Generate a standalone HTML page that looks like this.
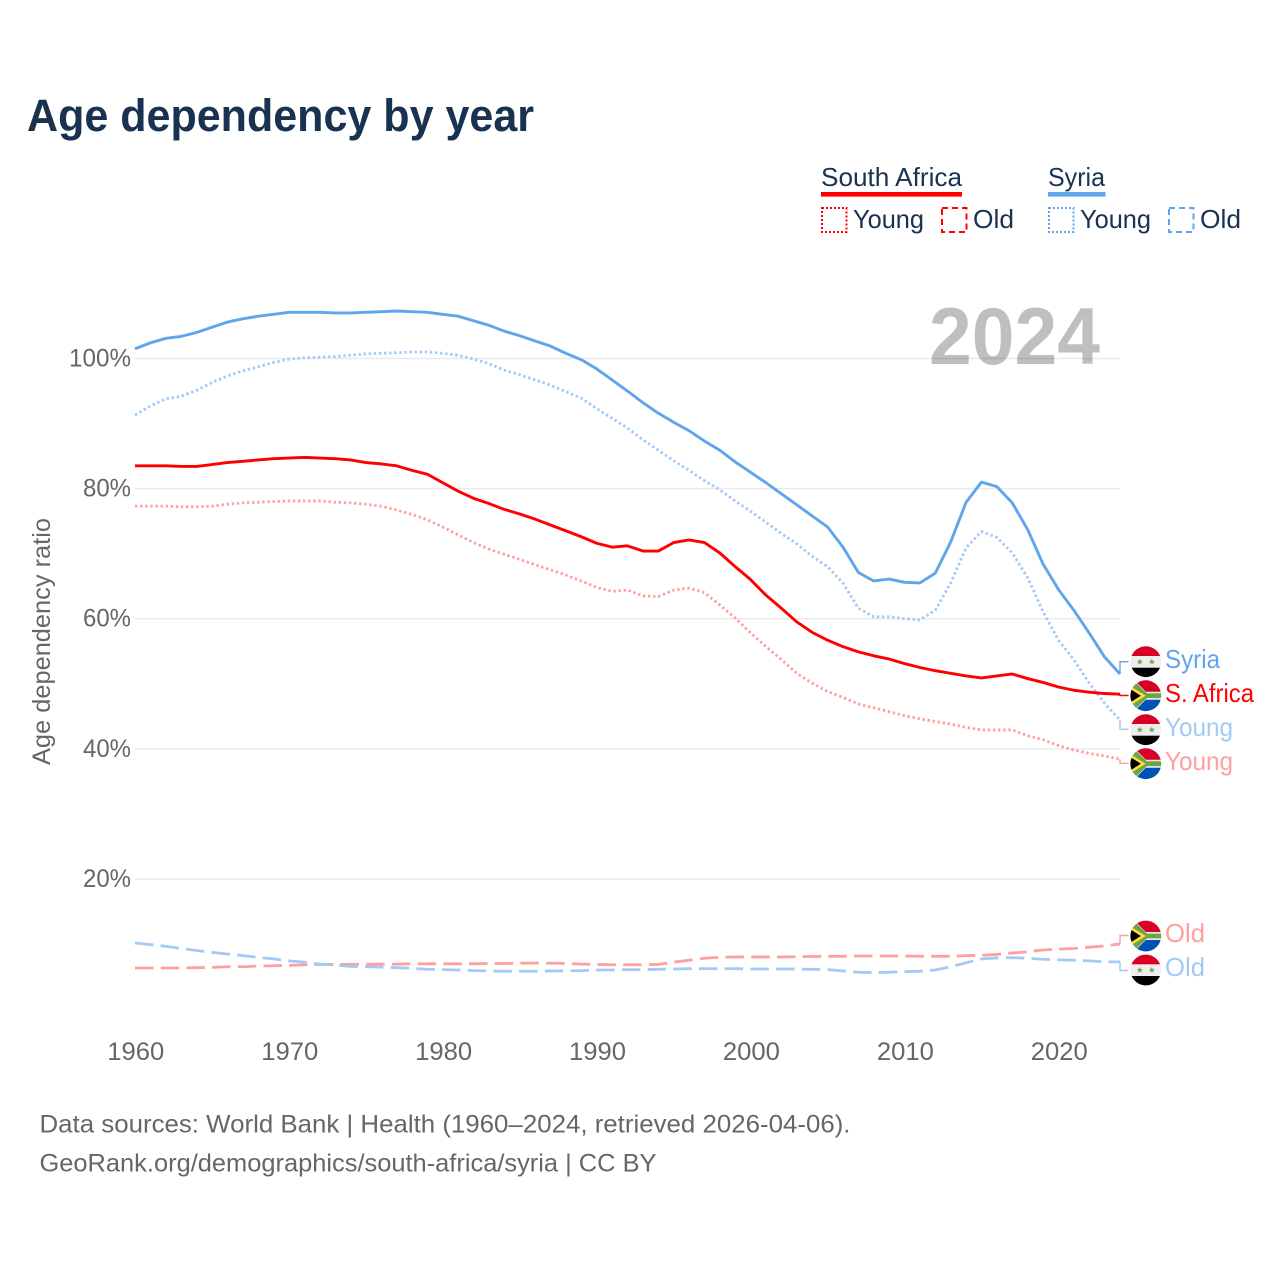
<!DOCTYPE html>
<html lang="en">
<head>
<meta charset="utf-8">
<title>Age dependency by year</title>
<style>
html,body{margin:0;padding:0;background:#fff;}
svg{display:block;font-family:"Liberation Sans",sans-serif;}
</style>
</head>
<body>
<svg id="chart" xmlns="http://www.w3.org/2000/svg" width="1280" height="1280" viewBox="0 0 1280 1280">
  <defs>
    <clipPath id="flag-clip"><circle cx="0" cy="0" r="15.4"/></clipPath>
    <g id="flag-syria" clip-path="url(#flag-clip)">
      <rect x="-16" y="-16" width="32" height="32" fill="#eeeeee"/>
      <rect x="-16" y="-16" width="32" height="10.3" fill="#d80027"/>
      <rect x="-16" y="6" width="32" height="10" fill="#000000"/>
      <polygon points="-6,-3 -5.1,-0.9 -3,-0.9 -4.6,0.5 -4,2.7 -6,1.4 -8,2.7 -7.4,0.5 -9,-0.9 -6.9,-0.9" fill="#6da544"/>
      <polygon points="6,-3 6.9,-0.9 9,-0.9 7.4,0.5 8,2.7 6,1.4 4,2.7 4.6,0.5 3,-0.9 5.1,-0.9" fill="#6da544"/>
    </g>
    <g id="flag-south-africa" clip-path="url(#flag-clip)">
      <rect x="-16" y="-16" width="32" height="32" fill="#eeeeee"/>
      <polygon points="-12,-16 16,-16 16,-4 0,-4" fill="#d80027"/>
      <polygon points="-12,16 16,16 16,4 0,4" fill="#0052b4"/>
      <polygon points="-16,-14 -11,-14 1,-2.4 16,-2.4 16,2.4 1,2.4 -11,14 -16,14" fill="#6da544"/>
      <polygon points="-16,-10 0,0 -16,10" fill="#ffda44"/>
      <polygon points="-16,-7 -5,0 -16,7" fill="#000000"/>
    </g>
  </defs>

  <text x="27" y="131" font-size="45" font-weight="700" fill="#193250" textLength="507" lengthAdjust="spacingAndGlyphs">Age dependency by year</text>

  <g>
    <g>
      <text x="821" y="186" font-size="26" fill="#193250" textLength="141" lengthAdjust="spacingAndGlyphs">South Africa</text>
      <rect x="821" y="192" width="141" height="4.6" fill="#ff0000"/>
    </g>
    <g>
      <rect x="822" y="208" width="24.5" height="24" fill="none" stroke="#ff0000" stroke-width="2" stroke-dasharray="2 2"/>
      <text x="853" y="228" font-size="26" fill="#193250" textLength="71" lengthAdjust="spacingAndGlyphs">Young</text>
    </g>
    <g>
      <rect x="942" y="208" width="24.5" height="24" fill="none" stroke="#ff0000" stroke-width="2" stroke-dasharray="6 4"/>
      <text x="973" y="228" font-size="26" fill="#193250" textLength="41" lengthAdjust="spacingAndGlyphs">Old</text>
    </g>
    <g>
      <text x="1048" y="186" font-size="26" fill="#193250" textLength="57" lengthAdjust="spacingAndGlyphs">Syria</text>
      <rect x="1048" y="192" width="57.5" height="4.6" fill="#5fa5ec"/>
    </g>
    <g>
      <rect x="1049" y="208" width="24.5" height="24" fill="none" stroke="#5fa5ec" stroke-width="2" stroke-dasharray="2 2"/>
      <text x="1080" y="228" font-size="26" fill="#193250" textLength="71" lengthAdjust="spacingAndGlyphs">Young</text>
    </g>
    <g>
      <rect x="1169" y="208" width="24.5" height="24" fill="none" stroke="#5fa5ec" stroke-width="2" stroke-dasharray="6 4"/>
      <text x="1200" y="228" font-size="26" fill="#193250" textLength="41" lengthAdjust="spacingAndGlyphs">Old</text>
    </g>
  </g>

  <g id="grid"></g>
  <g id="y-ticks"></g>
  <g id="x-ticks"></g>

  <text transform="translate(50,641.5) rotate(-90)" text-anchor="middle" font-size="25" fill="#666666" textLength="247" lengthAdjust="spacingAndGlyphs">Age dependency ratio</text>

  <text x="929" y="364" font-size="81" font-weight="700" fill="#000000" fill-opacity="0.25" textLength="171" lengthAdjust="spacingAndGlyphs">2024</text>

  <g id="series"></g>
  <g id="connectors"></g>

  <g>
    <use href="#flag-syria" transform="translate(1145.8,661.7)"/>
    <use href="#flag-south-africa" transform="translate(1145.8,695.7)"/>
    <use href="#flag-syria" transform="translate(1145.8,729.7)"/>
    <use href="#flag-south-africa" transform="translate(1145.8,763.7)"/>
    <use href="#flag-south-africa" transform="translate(1145.8,936)"/>
    <use href="#flag-syria" transform="translate(1145.8,970)"/>
    <text x="1165" y="668" font-size="26" fill="#5fa5ec" textLength="55" lengthAdjust="spacingAndGlyphs">Syria</text>
    <text x="1165" y="702" font-size="26" fill="#ff0000" textLength="89" lengthAdjust="spacingAndGlyphs">S. Africa</text>
    <text x="1165" y="736" font-size="26" fill="#a3c9f5" textLength="68" lengthAdjust="spacingAndGlyphs">Young</text>
    <text x="1165" y="770" font-size="26" fill="#ff9f9f" textLength="68" lengthAdjust="spacingAndGlyphs">Young</text>
    <text x="1165" y="942" font-size="26" fill="#ff9f9f" textLength="40" lengthAdjust="spacingAndGlyphs">Old</text>
    <text x="1165" y="976" font-size="26" fill="#a3c9f5" textLength="40" lengthAdjust="spacingAndGlyphs">Old</text>
  </g>

  <text x="39.5" y="1132.5" font-size="25" fill="#666666" textLength="811" lengthAdjust="spacingAndGlyphs">Data sources: World Bank | Health (1960–2024, retrieved 2026-04-06).</text>
  <text x="39.5" y="1171.5" font-size="25" fill="#666666" textLength="617" lengthAdjust="spacingAndGlyphs">GeoRank.org/demographics/south-africa/syria | CC BY</text>
</svg>

<script>
const startYear = 1960;
const endYear = 2024;
const xTickYears = [1960, 1970, 1980, 1990, 2000, 2010, 2020];
const xTickLabels = ["1960", "1970", "1980", "1990", "2000", "2010", "2020"];
const yTickValues = [20, 40, 60, 80, 100];
const yTickLabels = ["20%", "40%", "60%", "80%", "100%"];

const syriaTotal = [
101.5,102.4,103.1,103.4,104.0,104.8,105.6,106.1,106.5,106.8,
107.1,107.1,107.1,107.0,107.0,107.1,107.2,107.3,107.2,107.1,
106.8,106.5,105.8,105.1,104.2,103.5,102.7,101.9,100.8,99.8,
98.4,96.7,95.0,93.2,91.6,90.2,88.9,87.3,85.9,84.1,
82.5,80.9,79.2,77.5,75.8,74.1,71.0,67.1,65.8,66.1,
65.6,65.5,67.0,71.8,77.9,81.0,80.3,77.8,73.7,68.4,
64.5,61.3,57.8,54.1,51.5];
const syriaYoung = [
91.3,92.7,93.8,94.2,95.1,96.3,97.3,98.1,98.7,99.4,
99.9,100.1,100.2,100.3,100.5,100.7,100.8,100.9,101.0,101.0,
100.8,100.5,99.9,99.2,98.2,97.5,96.7,95.9,94.9,93.9,
92.3,90.8,89.3,87.5,85.9,84.3,82.8,81.2,79.8,78.1,
76.5,74.8,73.1,71.5,69.6,68.0,65.5,61.6,60.3,60.3,
60.0,59.8,61.3,65.5,70.9,73.4,72.5,70.1,66.3,61.1,
56.7,53.7,50.1,47.0,44.4];
const syriaOld = [
10.15,9.9,9.65,9.3,9.0,8.7,8.45,8.2,7.95,7.7,
7.4,7.2,6.9,6.75,6.55,6.5,6.45,6.35,6.25,6.1,
6.05,6.0,5.9,5.85,5.8,5.8,5.8,5.85,5.87,5.9,
6.0,6.0,6.05,6.05,6.1,6.15,6.2,6.2,6.2,6.2,
6.15,6.15,6.15,6.15,6.1,6.05,5.85,5.65,5.6,5.65,
5.75,5.8,6.0,6.5,7.1,7.7,7.85,7.9,7.8,7.65,
7.55,7.5,7.4,7.25,7.25];
const southAfricaTotal = [
83.5,83.5,83.5,83.4,83.4,83.7,84.0,84.2,84.4,84.6,
84.7,84.8,84.7,84.6,84.4,84.0,83.8,83.5,82.8,82.2,
80.9,79.6,78.5,77.7,76.8,76.1,75.3,74.4,73.5,72.6,
71.6,71.0,71.2,70.4,70.4,71.7,72.1,71.7,70.1,68.0,
66.0,63.6,61.6,59.5,57.9,56.7,55.7,54.9,54.3,53.8,
53.1,52.5,52.0,51.6,51.2,50.9,51.2,51.5,50.8,50.2,
49.5,49.0,48.7,48.5,48.4];
const southAfricaYoung = [
77.3,77.3,77.3,77.2,77.2,77.3,77.6,77.8,77.9,78.0,
78.1,78.1,78.1,77.9,77.8,77.6,77.3,76.7,76.0,75.2,
74.1,72.9,71.7,70.7,69.9,69.1,68.3,67.5,66.7,65.8,
64.8,64.2,64.4,63.5,63.4,64.4,64.7,64.0,62.1,60.1,
57.8,55.7,53.7,51.6,50.1,48.8,47.9,46.9,46.3,45.7,
45.1,44.6,44.2,43.8,43.3,42.9,42.9,42.9,42.0,41.4,
40.5,39.8,39.3,38.9,38.4];
const southAfricaOld = [
6.3,6.3,6.3,6.3,6.35,6.4,6.5,6.5,6.6,6.65,
6.7,6.8,6.85,6.85,6.85,6.9,6.9,6.9,6.95,6.95,
6.95,6.95,6.95,7.0,7.0,7.05,7.05,7.05,7.0,6.9,
6.85,6.8,6.8,6.8,6.85,7.2,7.5,7.8,7.95,8.0,
8.0,8.0,8.0,8.04,8.07,8.1,8.1,8.15,8.15,8.15,
8.15,8.1,8.1,8.1,8.2,8.25,8.4,8.6,8.8,9.07,
9.2,9.3,9.5,9.7,10.0];

const svgNS = "http://www.w3.org/2000/svg";

function xScale(year) {
  return 135 + (year - startYear) * (1120 - 135) / (endYear - startYear);
}
function yScale(value) {
  return 1009 - value * 6.505;
}

const gridLayer = document.getElementById("grid");
const yTickLayer = document.getElementById("y-ticks");
const xTickLayer = document.getElementById("x-ticks");
const seriesLayer = document.getElementById("series");
const connectorLayer = document.getElementById("connectors");

yTickValues.forEach(function (value, i) {
  const line = document.createElementNS(svgNS, "line");
  
  
  line.setAttribute("x1", 135);
  line.setAttribute("x2", 1120);
  line.setAttribute("y1", yScale(value));
  line.setAttribute("y2", yScale(value));
  line.setAttribute("stroke", "#e9e9e9");
  line.setAttribute("stroke-width", "1.4");
  gridLayer.appendChild(line);

  const label = document.createElementNS(svgNS, "text");
  
  
  label.setAttribute("x", 131);
  label.setAttribute("y", yScale(value) + 8);
  label.setAttribute("text-anchor", "end");
  label.setAttribute("font-size", "25");
  label.setAttribute("fill", "#666666");
  label.setAttribute("textLength", yTickLabels[i].length > 3 ? 62 : 48);
  label.setAttribute("lengthAdjust", "spacingAndGlyphs");
  label.textContent = yTickLabels[i];
  yTickLayer.appendChild(label);
});

xTickYears.forEach(function (year, i) {
  const label = document.createElementNS(svgNS, "text");
  
  
  label.setAttribute("x", xScale(year) + 0.8);
  label.setAttribute("y", 1060);
  label.setAttribute("text-anchor", "middle");
  label.setAttribute("font-size", "25");
  label.setAttribute("fill", "#666666");
  label.setAttribute("textLength", 57);
  label.setAttribute("lengthAdjust", "spacingAndGlyphs");
  label.textContent = xTickLabels[i];
  xTickLayer.appendChild(label);
});

function drawSeries(values, color, width, dash, labelY, name) {
  const pts = values.map(function (v, i) {
    return xScale(startYear + i).toFixed(2) + "," + yScale(v).toFixed(2);
  }).join(" ");
  const line = document.createElementNS(svgNS, "polyline");
  
  
  line.setAttribute("points", pts);
  line.setAttribute("fill", "none");
  line.setAttribute("stroke", color);
  line.setAttribute("stroke-width", width);
  line.setAttribute("stroke-linejoin", "round");
  if (dash) line.setAttribute("stroke-dasharray", dash);
  seriesLayer.appendChild(line);

  const endX = xScale(endYear);
  const endY = yScale(values[values.length - 1]);
  const connector = document.createElementNS(svgNS, "polyline");
  
  
  connector.setAttribute("points", endX + "," + endY + " " + endX + "," + labelY + " " + (endX + 8.5) + "," + labelY);
  connector.setAttribute("fill", "none");
  connector.setAttribute("stroke", color);
  connector.setAttribute("stroke-width", "1.4");
  connectorLayer.appendChild(connector);
}

drawSeries(southAfricaOld, "#ff9f9f", 2.8, "18.5 7.2", 935.5, "line-south-africa-old");
drawSeries(syriaOld, "#a3c9f5", 2.8, "18.5 7.2", 970.5, "line-syria-old");
drawSeries(southAfricaYoung, "#ff9f9f", 2.8, "2.4 2.7", 763.3, "line-south-africa-young");
drawSeries(syriaYoung, "#a3c9f5", 2.8, "2.4 2.7", 729.3, "line-syria-young");
drawSeries(syriaTotal, "#5fa5ec", 2.9, "", 661.7, "line-syria-total");
drawSeries(southAfricaTotal, "#ff0000", 2.9, "", 695.5, "line-south-africa-total");
</script>
</body>
</html>
